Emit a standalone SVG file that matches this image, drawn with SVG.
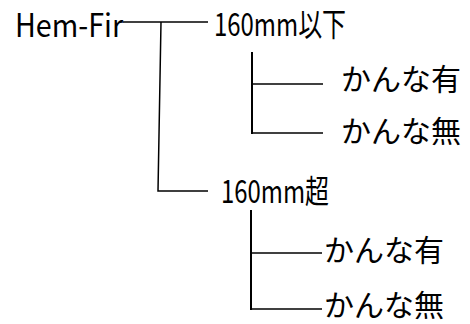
<svg xmlns="http://www.w3.org/2000/svg" width="470" height="324" viewBox="0 0 470 324">
<style>
text{font-family:"Noto Sans CJK JP","Noto Sans",sans-serif;font-size:30px;fill:#000}
.n{font-size:32px}
.c{fill:none;stroke:#000;stroke-width:1.5}
.v{stroke-width:2}
</style>
<rect width="470" height="324" fill="#fff"/>
<g id="connectors">
<path class="c" d="M123,22 H208"/>
<path class="c" d="M161,22 L158,191 H208"/>
<path class="c v" d="M252,52 V134"/>
<path class="c" d="M252,84 H323"/>
<path class="c" d="M252,133 H323"/>
<path class="c v" d="M251,210 V310"/>
<path class="c" d="M251,253 H322"/>
<path class="c" d="M251,309 H322"/>
</g>
<g id="root"><text class="n" x="15" y="37" textLength="108" lengthAdjust="spacingAndGlyphs">Hem-Fir</text></g>
<g id="le160"><text class="n" x="214" y="36" textLength="132" lengthAdjust="spacingAndGlyphs">160mm以下</text></g>
<g id="le160-yes"><text x="341" y="90">かんな有</text></g>
<g id="le160-no"><text x="341" y="142">かんな無</text></g>
<g id="gt160"><text class="n" x="221" y="203" textLength="108" lengthAdjust="spacingAndGlyphs">160mm超</text></g>
<g id="gt160-yes"><text x="324" y="261">かんな有</text></g>
<g id="gt160-no"><text x="324" y="316">かんな無</text></g>
</svg>
